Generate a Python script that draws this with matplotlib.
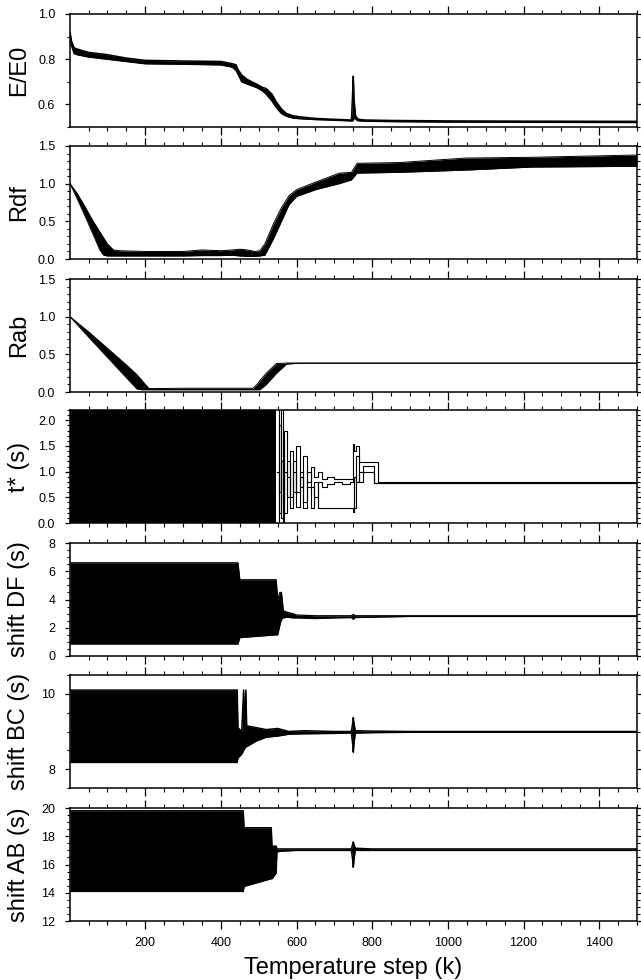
import numpy as np
import matplotlib.pyplot as plt
from matplotlib.ticker import MultipleLocator, FixedLocator, FormatStrFormatter

plt.rcParams['font.family'] = ['Liberation Sans', 'DejaVu Sans']

# ---- values ----
# E/E0 : band (upper / lower edge)
e_x  = [1, 5, 12, 20, 50, 100, 150, 200, 300, 400, 430, 440, 445, 455, 470, 494, 510, 520, 535, 547, 560, 573, 590, 608, 650, 687, 745, 748, 750, 752, 756, 762, 780, 850, 1000, 1200, 1500]
e_hi = [0.92, 0.88, 0.85, 0.845, 0.83, 0.82, 0.805, 0.795, 0.792, 0.79, 0.78, 0.775, 0.755, 0.73, 0.71, 0.69, 0.675, 0.67, 0.645, 0.61, 0.58, 0.56, 0.55, 0.545, 0.538, 0.535, 0.531, 0.64, 0.725, 0.62, 0.55, 0.535, 0.531, 0.529, 0.527, 0.526, 0.525]
e_lo = [0.90, 0.86, 0.825, 0.82, 0.81, 0.80, 0.79, 0.78, 0.778, 0.775, 0.765, 0.75, 0.735, 0.70, 0.69, 0.675, 0.66, 0.645, 0.615, 0.585, 0.56, 0.548, 0.54, 0.537, 0.533, 0.531, 0.527, 0.527, 0.53, 0.545, 0.535, 0.528, 0.526, 0.524, 0.522, 0.521, 0.52]

# Rdf : bundle of runs (lowest / highest run)
rdf_x  = [1, 20, 40, 60, 80, 90, 100, 116, 130, 200, 300, 350, 400, 430, 450, 470, 490, 503, 516, 540, 560, 580, 600, 650, 713, 745, 760, 871, 1047, 1221, 1500]
rdf_lo = [1.0, 0.80, 0.58, 0.35, 0.12, 0.05, 0.04, 0.04, 0.04, 0.04, 0.04, 0.045, 0.045, 0.05, 0.04, 0.035, 0.035, 0.04, 0.05, 0.28, 0.50, 0.72, 0.83, 0.92, 1.00, 1.05, 1.14, 1.15, 1.18, 1.22, 1.23]
rdf_hi = [1.0, 0.87, 0.70, 0.52, 0.36, 0.28, 0.20, 0.12, 0.11, 0.10, 0.10, 0.12, 0.11, 0.12, 0.13, 0.12, 0.10, 0.11, 0.20, 0.48, 0.68, 0.84, 0.92, 1.02, 1.14, 1.15, 1.27, 1.28, 1.34, 1.35, 1.38]

# Rab
rab_x  = [1, 50, 100, 150, 178, 190, 209, 220, 300, 400, 485, 495, 503, 520, 547, 560, 573, 600, 800, 1000, 1500]
rab_lo = [1.0, 0.73, 0.46, 0.19, 0.04, 0.03, 0.03, 0.03, 0.03, 0.03, 0.03, 0.03, 0.03, 0.10, 0.25, 0.31, 0.37, 0.38, 0.38, 0.38, 0.38]
rab_hi = [1.0, 0.80, 0.58, 0.36, 0.23, 0.16, 0.05, 0.045, 0.05, 0.05, 0.05, 0.10, 0.15, 0.25, 0.38, 0.38, 0.385, 0.385, 0.385, 0.385, 0.385]

# t* : fully covered block, then three runs
ts_block_x = [1, 545]
ts_block_lo = [0.0, 0.0]
ts_block_hi = [2.3, 2.3]
ts_x = [548, 553, 558, 563, 568, 575, 582, 590, 599, 608, 617, 627, 637, 647, 657, 667, 680, 700, 720, 740, 748, 752, 758, 766, 775, 790, 805, 814, 830, 900, 1000, 1200, 1500]
ts_a = [2.3, 0.2, 2.3, 0.0, 1.8, 0.5, 1.4, 0.6, 1.5, 0.7, 1.3, 0.8, 1.1, 0.9, 1.0, 0.85, 0.9, 0.85, 0.85, 0.85, 1.53, 1.4, 1.5, 1.18, 1.18, 1.18, 1.18, 0.8, 0.79, 0.79, 0.79, 0.79, 0.79]
ts_b = [0.0, 1.9, 0.1, 1.6, 0.2, 1.2, 0.3, 1.0, 0.32, 0.9, 0.3, 0.7, 0.3, 0.8, 0.3, 0.3, 0.3, 0.3, 0.3, 0.3, 0.21, 0.9, 0.8, 1.0, 1.0, 1.0, 0.78, 0.78, 0.78, 0.78, 0.78, 0.78, 0.78]
ts_c = [1.0, 0.6, 1.2, 0.4, 1.0, 0.9, 0.5, 1.2, 0.6, 1.0, 0.4, 1.0, 0.7, 0.5, 0.8, 0.7, 0.75, 0.8, 0.75, 0.8, 0.9, 0.3, 1.3, 0.8, 1.11, 1.11, 0.77, 0.77, 0.77, 0.77, 0.77, 0.77, 0.77]

# shift DF
df_x  = [1, 445, 450, 546, 550, 556, 560, 565, 575, 590, 600, 650, 700, 745, 750, 755, 800, 900, 1000, 1500]
df_hi = [6.6, 6.6, 5.4, 5.4, 4.0, 4.5, 4.5, 3.2, 3.1, 3.0, 2.9, 2.85, 2.85, 2.85, 2.95, 2.85, 2.85, 2.85, 2.85, 2.85]
df_lo = [0.85, 0.85, 1.3, 1.5, 1.5, 2.2, 2.6, 2.7, 2.75, 2.7, 2.7, 2.65, 2.7, 2.72, 2.6, 2.72, 2.75, 2.8, 2.8, 2.8]

# shift BC
bc_x  = [1, 443, 445, 455, 460, 463, 466, 468, 494, 520, 550, 580, 620, 700, 745, 748, 750, 752, 755, 800, 900, 1500]
bc_hi = [10.1, 10.1, 9.1, 9.0, 10.1, 9.1, 10.1, 9.15, 9.1, 9.05, 9.08, 9.0, 9.02, 9.0, 9.0, 9.2, 9.37, 9.2, 9.02, 9.01, 9.0, 9.0]
bc_lo = [8.18, 8.18, 8.3, 8.4, 8.5, 8.55, 8.6, 8.6, 8.75, 8.85, 8.88, 8.93, 8.94, 8.95, 8.96, 8.7, 8.45, 8.7, 8.96, 8.97, 8.98, 8.98]

# shift AB
ab_x  = [1, 459, 461, 520, 533, 535, 546, 548, 560, 600, 700, 745, 748, 750, 752, 755, 800, 1500]
ab_hi = [19.8, 19.8, 18.6, 18.6, 18.6, 17.3, 17.3, 17.1, 17.1, 17.1, 17.1, 17.1, 17.4, 17.6, 17.4, 17.15, 17.1, 17.1]
ab_lo = [14.1, 14.1, 14.45, 14.9, 15.0, 15.0, 15.4, 16.9, 16.95, 17.0, 17.0, 17.0, 16.4, 15.8, 16.4, 17.0, 17.0, 17.0]

x_ticks = [200, 400, 600, 800, 1000, 1200, 1400]

# ---- layout ----
W, H = 641, 980
fig = plt.figure(figsize=(W / 100, H / 100), dpi=100)
left, right = 70, 637
tops = [14, 146, 279, 410, 543, 675, 808]
ph = 113


def make_ax(i, ylim, major, minor, fmt, label, last=False):
    top = tops[i]
    ax = fig.add_axes([left / W, (H - top - ph) / H, (right - left) / W, ph / H])
    ax.set_xlim(1, 1500)
    ax.set_ylim(*ylim)
    ax.xaxis.set_major_locator(FixedLocator(x_ticks))
    ax.xaxis.set_minor_locator(MultipleLocator(50))
    if isinstance(major, list):
        ax.yaxis.set_major_locator(FixedLocator(major))
    else:
        ax.yaxis.set_major_locator(MultipleLocator(major))
    ax.yaxis.set_minor_locator(MultipleLocator(minor))
    ax.yaxis.set_major_formatter(FormatStrFormatter(fmt))
    ax.tick_params(axis='x', which='major', direction='out', length=5.8, width=0.9,
                   top=True, bottom=True, labelbottom=last, labelsize=9, pad=5.5)
    ax.tick_params(axis='x', which='minor', direction='out', length=2.9, width=0.8,
                   top=True, bottom=True)
    ax.tick_params(axis='y', which='major', direction='out', length=3.6, width=0.9,
                   left=True, right=True, labelsize=9, pad=7)
    ax.tick_params(axis='y', which='minor', direction='out', length=2.2, width=0.8,
                   left=True, right=True)
    for s in ax.spines.values():
        s.set_linewidth(1.1)
    fig.text(19 / W, 1 - (top + ph / 2) / H, label, rotation=90, ha='center',
             va='center', fontsize=17)
    return ax


def band(ax, x, lo, hi, lw=0.9):
    ax.fill_between(x, lo, hi, color='k', lw=0)
    ax.plot(x, lo, color='k', lw=lw)
    ax.plot(x, hi, color='k', lw=lw)


ax1 = make_ax(0, (0.5, 1.0), 0.2, 0.1, '%.1f', 'E/E0')
band(ax1, e_x, e_lo, e_hi, lw=1.1)

ax2 = make_ax(1, (0.0, 1.5), 0.5, 0.1, '%.1f', 'Rdf')
band(ax2, rdf_x, rdf_lo, rdf_hi, lw=0.7)

ax3 = make_ax(2, (0.0, 1.5), 0.5, 0.1, '%.1f', 'Rab')
band(ax3, rab_x, rab_lo, rab_hi, lw=0.7)

ax4 = make_ax(3, (0.0, 2.2), 0.5, 0.1, '%.1f', 't* (s)')
ax4.fill_between(ts_block_x, ts_block_lo, ts_block_hi, color='k', lw=0)
for run in (ts_a, ts_b, ts_c):
    ax4.plot(ts_x, run, color='k', lw=0.8, drawstyle='steps-post')

ax5 = make_ax(4, (0, 8), 2, 0.5, '%d', 'shift DF (s)')
band(ax5, df_x, df_lo, df_hi, lw=0.9)

ax6 = make_ax(5, (7.5, 10.5), [8, 10], 0.5, '%d', 'shift BC (s)')
band(ax6, bc_x, bc_lo, bc_hi, lw=1.1)

ax7 = make_ax(6, (12, 20), 2, 0.5, '%d', 'shift AB (s)', last=True)
band(ax7, ab_x, ab_lo, ab_hi, lw=1.1)

fig.text((left + right) / 2 / W, 6 / H, 'Temperature step (k)', ha='center',
         va='baseline', fontsize=17)

fig.savefig('out.png', dpi=100)
